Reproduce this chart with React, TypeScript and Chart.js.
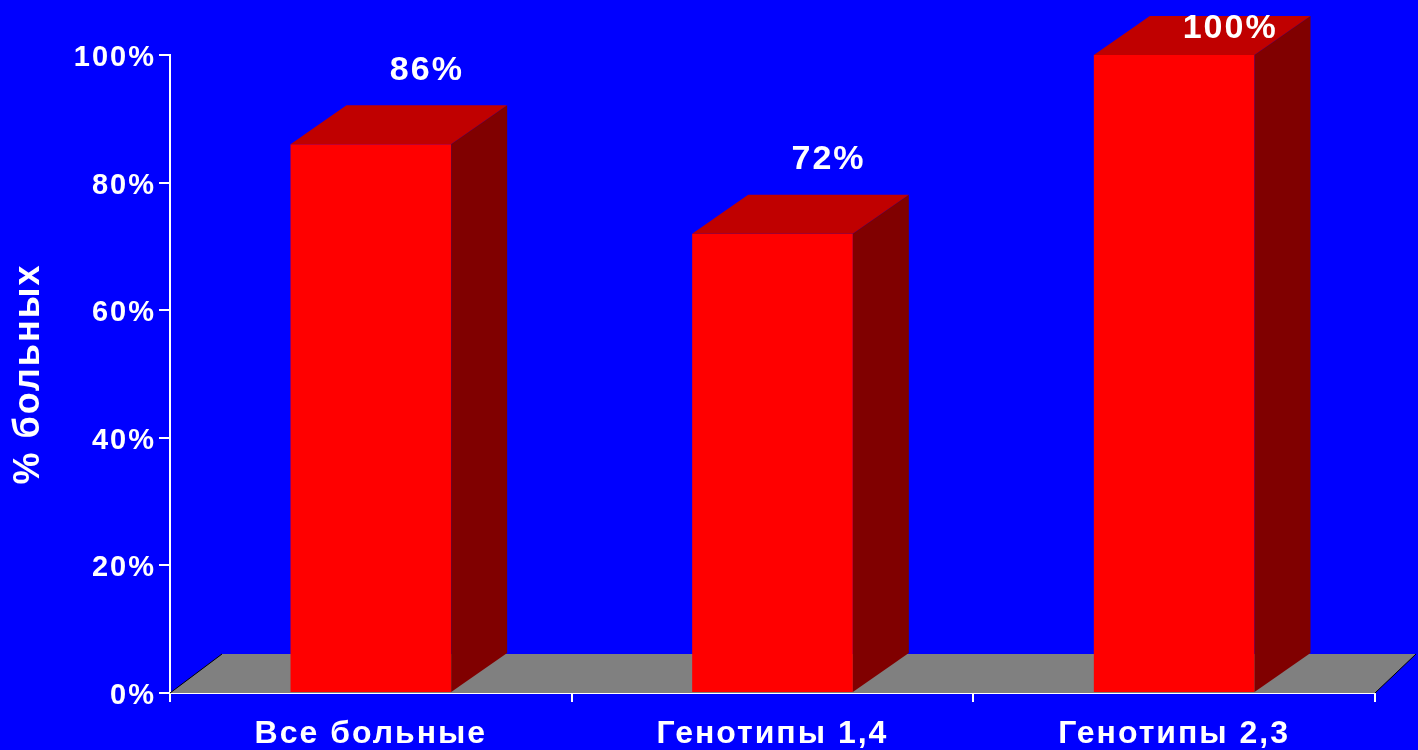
import React, { useEffect, useRef } from "react";
import { Chart, registerables } from "chart.js";

Chart.register(...registerables);

const categories = ["Все больные", "Генотипы 1,4", "Генотипы 2,3"];
const values = [86, 72, 100];
const valueLabels = ["86%", "72%", "100%"];
const yTicks = [0, 20, 40, 60, 80, 100];
const yTitle = "% больных";

const FONT = "'Liberation Sans', Arial, sans-serif";
const DX = 56;
const DY = -39;

const bar3d = {
  id: "bar3d",
  beforeDraw(chart: any) {
    chart.ctx.letterSpacing = "2px";
  },
  beforeDatasetsDraw(chart: any) {
    const { ctx, chartArea } = chart;
    const { left, right, bottom } = chartArea;
    ctx.save();
    ctx.beginPath();
    ctx.moveTo(left, bottom);
    ctx.lineTo(left + 52, bottom + DY);
    ctx.lineTo(right + 41, bottom + DY);
    ctx.lineTo(right, bottom);
    ctx.closePath();
    ctx.fillStyle = "#808080";
    ctx.fill();
    ctx.strokeStyle = "#000000";
    ctx.lineWidth = 1;
    ctx.beginPath();
    ctx.moveTo(left, bottom);
    ctx.lineTo(left + 52, bottom + DY);
    ctx.moveTo(right, bottom);
    ctx.lineTo(right + 41, bottom + DY);
    ctx.stroke();
    ctx.restore();
  },
  afterDatasetsDraw(chart: any) {
    const { ctx } = chart;
    const meta = chart.getDatasetMeta(0);
    ctx.save();
    meta.data.forEach((el: any, i: number) => {
      const { x, y, base, width } = el.getProps(["x", "y", "base", "width"], true);
      const l = x - width / 2;
      const r = x + width / 2;
      // top face
      ctx.beginPath();
      ctx.moveTo(l, y);
      ctx.lineTo(l + DX, y + DY);
      ctx.lineTo(r + DX, y + DY);
      ctx.lineTo(r, y);
      ctx.closePath();
      ctx.fillStyle = "#C00000";
      ctx.fill();
      // side face
      ctx.beginPath();
      ctx.moveTo(r, y);
      ctx.lineTo(r + DX, y + DY);
      ctx.lineTo(r + DX, base + DY);
      ctx.lineTo(r, base);
      ctx.closePath();
      ctx.fillStyle = "#800000";
      ctx.fill();
      // value label
      const ly = Math.max(y + DY - 35, 29);
      ctx.fillStyle = "#FFFFFF";
      ctx.font = `bold 34px ${FONT}`;
      ctx.textAlign = "center";
      ctx.textBaseline = "middle";
      ctx.fillText(valueLabels[i], x + DX, ly);
    });
    ctx.restore();
  },
};

export default function App() {
  const ref = useRef<HTMLCanvasElement>(null);
  useEffect(() => {
    document.body.style.margin = "0";
    document.body.style.background = "#0000FF";
    const chart = new Chart(ref.current as HTMLCanvasElement, {
      type: "bar",
      data: {
        labels: categories,
        datasets: [
          {
            data: values,
            backgroundColor: "#FF0000",
            borderWidth: 0,
            barPercentage: 0.4,
            categoryPercentage: 1,
          },
        ],
      },
      plugins: [bar3d],
      options: {
        responsive: false,
        animation: false,
        events: [],
        layout: { padding: { top: 55, right: 43, left: 0, bottom: 0 } },
        plugins: { legend: { display: false }, tooltip: { enabled: false } },
        scales: {
          x: {
            offset: true,
            grid: {
              offset: true,
              drawOnChartArea: false,
              drawTicks: true,
              tickLength: 9,
              color: "#FFFFFF",
              lineWidth: 2,
            },
            border: { display: true, color: "#FFFFFF", width: 2 },
            ticks: {
              color: "#FFFFFF",
              padding: 13,
              maxRotation: 0,
              font: { family: FONT, size: 32, weight: "bold" },
            },
            afterFit: (s: any) => {
              s.height = 57;
            },
          },
          y: {
            min: 0,
            max: 100,
            afterBuildTicks: (s: any) => {
              s.ticks = yTicks.map((v) => ({ value: v }));
            },
            grid: {
              drawOnChartArea: false,
              drawTicks: true,
              tickLength: 11,
              color: "#FFFFFF",
              lineWidth: 2,
            },
            border: { display: true, color: "#FFFFFF", width: 2 },
            ticks: {
              color: "#FFFFFF",
              padding: 3,
              labelOffset: 3,
              font: { family: FONT, size: 29, weight: "bold" },
              callback: (v: any) => v + "%",
            },
            title: {
              display: true,
              text: yTitle,
              color: "#FFFFFF",
              padding: { top: 7, bottom: 0 },
              font: { family: FONT, size: 36, weight: "bold" },
            },
            afterFit: (s: any) => {
              s.width = 170;
            },
          },
        },
      },
    } as any);
    return () => chart.destroy();
  }, []);
  return (
    <div style={{ width: 1418, height: 750, background: "#0000FF" }}>
      <canvas ref={ref} width={1418} height={750} style={{ display: "block" }} />
    </div>
  );
}
